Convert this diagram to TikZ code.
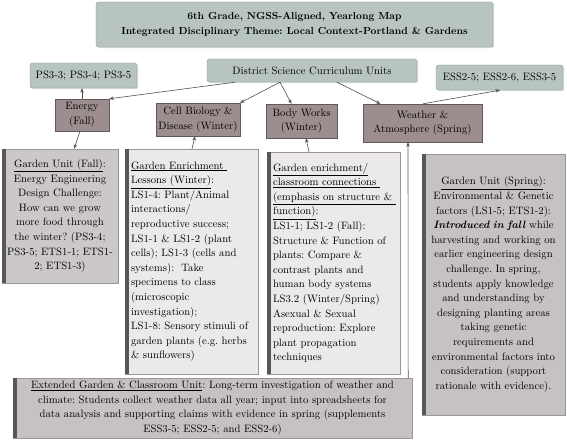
\documentclass[tikz,border=0pt]{standalone}
\usepackage{tikz}
\usetikzlibrary{positioning,arrows.meta,shadows}
\frenchspacing
\definecolor{hdrc}{HTML}{B8C5BF}
\definecolor{hdrd}{HTML}{8F9C96}
\definecolor{unitc}{HTML}{9C8E8E}
\definecolor{unitd}{HTML}{62585A}
\definecolor{notec}{HTML}{CDC8C8}
\definecolor{litec}{HTML}{ECE9E9}
\definecolor{noted}{HTML}{9A9696}
\definecolor{barc}{HTML}{575757}
\definecolor{linkc}{HTML}{4F4F4F}
\tikzset{
  boxshadow/.style={drop shadow={shadow xshift=1.2pt, shadow yshift=-1.2pt, opacity=.3}},
  hdrbox/.style={draw=hdrd, fill=hdrc, rounded corners=2.5pt, inner sep=2pt, align=center, boxshadow},
  unitbox/.style={draw=unitd, fill=unitc, inner sep=2pt, align=center, boxshadow},
  notebox/.style={draw=noted, fill=notec, inner ysep=2pt, inner xsep=6pt, boxshadow},
  link/.style={draw=linkc, line width=0.6pt, -{Stealth[length=4.5pt,width=3.5pt]}}
}
\newcommand{\gardenbox}[4]{%
  \node[notebox, #1] (#2) at #3 {#4};
  \draw[barc, line width=4pt] ([xshift=2pt]#2.north west) -- ([xshift=2pt]#2.south west);}

\begin{document}
\begin{tikzpicture}[x=1pt, y=-1pt, font={\fontsize{10.7}{14.6}\selectfont}]
  \useasboundingbox (0,0) rectangle (567,446);
  % headers
  \node[hdrbox, minimum width=397pt, minimum height=45pt,
        font={\fontsize{10.2}{15}\selectfont\bfseries}] (title) at (294.5,24.5)
    {6th Grade, NGSS-Aligned, Yearlong Map\\Integrated Disciplinary Theme: Local Context-Portland \& Gardens};
  \node[hdrbox, minimum width=210pt, minimum height=23pt] (district) at (312,70.5) {District Science Curriculum Units};
  \node[hdrbox, minimum width=107pt, minimum height=25pt] (ps) at (83.5,75.5) {PS3-3; PS3-4; PS3-5};
  \node[hdrbox, minimum width=127pt, minimum height=25pt] (ess) at (499.5,77.5) {ESS2-5; ESS2-6, ESS3-5};
  % units
  \node[unitbox, minimum width=54pt, minimum height=32pt] (energy) at (82,115) {Energy\\(Fall)};
  \node[unitbox, minimum width=84pt, minimum height=33pt] (cellbio) at (198,119.5) {Cell Biology \&\\Disease (Winter)};
  \node[unitbox, minimum width=71pt, minimum height=34pt] (body) at (301.5,121) {Body Works\\(Winter)};
  \node[unitbox, minimum width=119pt, minimum height=38pt] (weather) at (422.5,123) {Weather \&\\Atmosphere (Spring)};
  % garden boxes
  \gardenbox{inner xsep=2pt, minimum width=116pt, minimum height=134pt, text width=112pt, align=center}{fall}{(60,216)}
    {\underline{Garden Unit (Fall)}:\\Energy Engineering\\Design Challenge:\\How can we grow\\more food through\\the winter? (PS3-4;\\PS3-5; ETS1-1; ETS1-\\2; ETS1-3)}
  \gardenbox{fill=litec, minimum width=133pt, minimum height=225pt, text width=121pt, align=left}{enrich}{(191.5,261.5)}
    {\underline{Garden Enrichment }\\\underline{Lessons (Winter)}:\\LS1-4: Plant/Animal\\interactions/\\reproductive success;\\LS1-1 \& LS1-2 (plant\\cells); LS1-3 (cells and\\systems):\ \ Take\\specimens to class\\(microscopic\\investigation);\\LS1-8: Sensory stimuli of\\garden plants (e.g. herbs\\\& sunflowers)}
  \gardenbox{fill=litec, minimum width=133pt, minimum height=222pt, text width=121pt, align=left}{bodynote}{(333.5,263)}
    {\underline{Garden enrichment/}\\\underline{classroom connections }\\\underline{(emphasis on structure \& }\\\underline{function)}:\\LS1-1; LS1-2 (Fall):\\Structure \& Function of\\plants: Compare \&\\contrast plants and\\human body systems\\LS3.2 (Winter/Spring)\\Asexual \& Sexual\\reproduction: Explore\\plant propagation\\techniques}
  \gardenbox{fill=notec!97!black, minimum width=143pt, minimum height=261pt, text width=131pt, align=center}{spring}{(493.5,284.5)}
    {\underline{Garden Unit (Spring)}:\\Environmental \& Genetic\\factors (LS1-5; ETS1-2):\\\textbf{\textit{Introduced in fall}} while\\harvesting and working on\\earlier engineering design\\challenge. In spring,\\students apply knowledge\\and understanding by\\designing planting areas\\taking genetic\\requirements and\\environmental factors into\\consideration (support\\rationale with evidence).}
  \gardenbox{fill=notec!97!black, minimum width=399pt, minimum height=60pt, text width=387pt, align=center}{extended}{(212.5,408)}
    {\underline{Extended Garden \& Classroom Unit}: Long-term investigation of weather and\\climate: Students collect weather data all year; input into spreadsheets for\\data analysis and supporting claims with evidence in spring (supplements\\ESS3-5; ESS2-5; and ESS2-6)}
  % connectors
  \draw[link] ([xshift=-77pt]district.south) -- (energy.north east);
  \draw[link] ([xshift=-32pt]district.south) -- (cellbio.north east);
  \draw[link] ([xshift=-32pt]district.south) -- ([xshift=-10pt]body.north);
  \draw[link] ([xshift=25pt]district.south) -- ([xshift=-42pt]weather.north);
  \draw[link] (energy.north) -- (energy.north |- ps.south);
  \draw[link] ([xshift=0.5pt]weather.north) -- ([xshift=0.5pt]ess.south);
  \draw[link] ([xshift=-2pt]energy.south) -- ([xshift=14pt]fall.north);
  \draw[link] ([xshift=0.5pt]enrich.north) -- ([xshift=-3pt]cellbio.south);
  \draw[link] ([xshift=-24.5pt]bodynote.north) -- ([xshift=4.5pt]body.south);
  \draw[link] ([xshift=-4pt]extended.north east) -- ([xshift=-14.5pt]weather.south);
\end{tikzpicture}
\end{document}
